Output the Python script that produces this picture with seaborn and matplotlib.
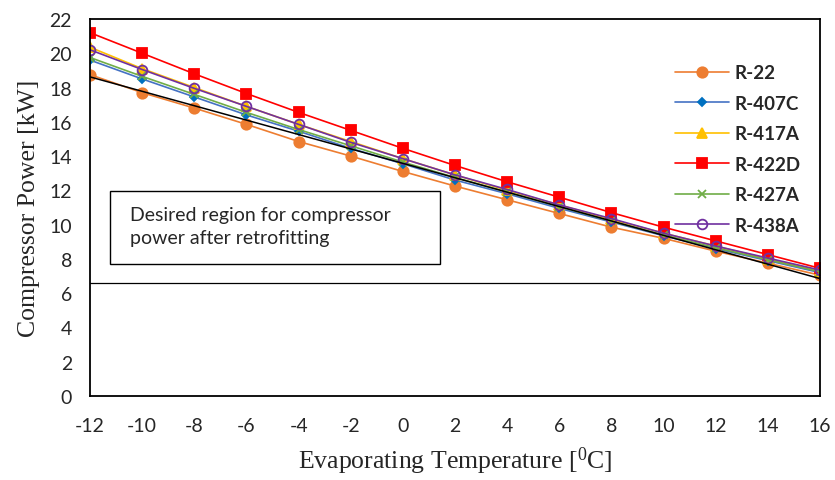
# compressor power vs evaporating temperature for R-22 and its retrofit refrigerants

import pandas as pd
import matplotlib.pyplot as plt
import matplotlib.patches as patches
import seaborn as sns

# data
temps = [-12, -10, -8, -6, -4, -2, 0, 2, 4, 6, 8, 10, 12, 14, 16]
r22 = [18.75, 17.7, 16.8, 15.85, 14.85, 14.0, 13.1, 12.25, 11.45, 10.65, 9.85, 9.2, 8.45, 7.75, 7.05]
r407c = [19.6, 18.5, 17.45, 16.4, 15.45, 14.45, 13.55, 12.6, 11.8, 10.95, 10.15, 9.35, 8.6, 7.9, 7.2]
r417a = [20.35, 19.1, 18.0, 16.9, 15.85, 14.85, 13.85, 12.9, 12.0, 11.15, 10.3, 9.5, 8.75, 8.0, 7.3]
r422d = [21.2, 20.0, 18.8, 17.65, 16.55, 15.5, 14.45, 13.45, 12.5, 11.6, 10.7, 9.85, 9.05, 8.25, 7.45]
r427a = [19.75, 18.65, 17.6, 16.55, 15.55, 14.6, 13.65, 12.75, 11.9, 11.05, 10.2, 9.4, 8.65, 7.95, 7.25]
r438a = [20.2, 19.05, 17.95, 16.9, 15.85, 14.8, 13.85, 12.9, 12.05, 11.15, 10.35, 9.5, 8.75, 8.05, 7.35]
names = ['R-22', 'R-407C', 'R-417A', 'R-422D', 'R-427A', 'R-438A']

# reference lines (R-22 trend and the retrofit limit)
limit_x = [-12, 16]
limit_y = [18.62, 6.85]
threshold = 6.6

x_ticks = list(range(-12, 17, 2))
y_ticks = list(range(0, 23, 2))

df = pd.DataFrame({
    'temp': temps * 6,
    'power': r22 + r407c + r417a + r422d + r427a + r438a,
    'refrigerant': [n for n in names for _ in temps],
})

styles = {
    'R-22':   dict(color='#ED7D31', marker='o', markersize=7.5, markerfacecolor='#ED7D31', markeredgecolor='#ED7D31'),
    'R-407C': dict(color='#4472C4', marker='D', markersize=4.5, markerfacecolor='#0070C0', markeredgecolor='#0070C0'),
    'R-417A': dict(color='#FFC000', marker='^', markersize=7, markerfacecolor='#FFC000', markeredgecolor='#FFC000'),
    'R-422D': dict(color='#FF0000', marker='s', markersize=7.5, markerfacecolor='#FF0000', markeredgecolor='#FF0000'),
    'R-427A': dict(color='#70AD47', marker='x', markersize=6, markerfacecolor='#70AD47', markeredgecolor='#70AD47'),
    'R-438A': dict(color='#7030A0', marker='o', markersize=7, markerfacecolor='none', markeredgecolor='#7030A0'),
}

sns.set_style('white')
plt.rcParams['font.family'] = ['Lato', 'DejaVu Sans']
plt.rcParams['axes.unicode_minus'] = False
plt.rcParams['mathtext.fontset'] = 'custom'
plt.rcParams['mathtext.rm'] = 'Liberation Serif'

fig = plt.figure(figsize=(8.35, 4.81), dpi=100)
ax = fig.add_axes([0.1078, 0.1746, 0.8743, 0.7839])

for name in names:
    sub = df[df['refrigerant'] == name]
    sns.lineplot(data=sub, x='temp', y='power', ax=ax, label=name,
                 linewidth=1.2, markeredgewidth=1.3, **styles[name])

ax.plot(limit_x, limit_y, color='black', linewidth=1.1, zorder=5)
ax.axhline(threshold, color='black', linewidth=0.9)

# annotation box
ax.add_patch(patches.Rectangle((0.027, 0.35), 0.452, 0.193, transform=ax.transAxes,
                               facecolor='white', edgecolor='black', linewidth=1.0, zorder=6))
ax.text(0.055, 0.505, 'Desired region for compressor\npower after retrofitting',
        transform=ax.transAxes, fontsize=14, va='top', ha='left',
        linespacing=1.45, zorder=7)

ax.set_xlim(-12, 16)
ax.set_ylim(0, 22)
ax.set_xticks(x_ticks)
ax.set_yticks(y_ticks)
ax.tick_params(axis='both', direction='out', length=6, width=1, labelsize=14, color='black')
ax.tick_params(axis='x', pad=9)
ax.tick_params(axis='y', pad=7)
for s in ax.spines.values():
    s.set_color('black')
    s.set_linewidth(1.3)

ax.set_xlabel('Evaporating Temperature [$\\mathrm{^0}$C]', family='Liberation Serif', fontsize=18.5, labelpad=8)
ax.set_ylabel('Compressor Power [kW]', family='Liberation Serif', fontsize=18.5, labelpad=7)

ax.legend(loc='upper left', bbox_to_anchor=(0.778, 0.925), frameon=False,
          prop={'weight': 'bold', 'size': 13.5}, handlelength=2.9,
          labelspacing=0.72, handletextpad=0.3)

plt.savefig('out.png', dpi=100)
